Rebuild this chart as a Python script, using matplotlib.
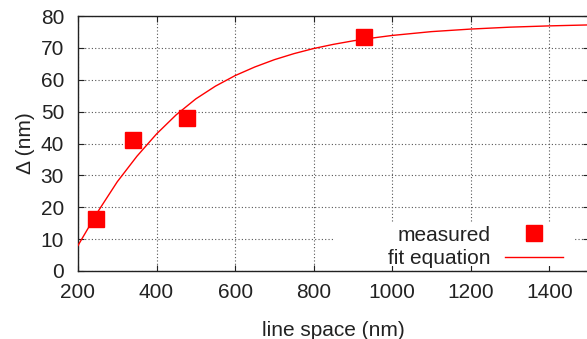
import numpy as np
import matplotlib
matplotlib.use("Agg")
import matplotlib.pyplot as plt
from matplotlib.patches import Rectangle

# measured points
space_meas = [245, 341, 477, 927]
delta_meas = [16.2, 41.1, 47.9, 73.3]

# fit curve
space_fit = [200, 250, 300, 350, 400, 450, 500, 550, 600, 650, 700, 750, 800,
             850, 900, 950, 1000, 1100, 1200, 1300, 1400, 1500]
delta_fit = [8.0, 18.5, 28.0, 36.0, 43.0, 49.0, 54.0, 58.0, 61.3, 64.0, 66.3,
             68.2, 69.8, 71.1, 72.2, 73.1, 73.9, 75.1, 75.9, 76.5, 76.9, 77.2]

xticks = [200, 400, 600, 800, 1000, 1200, 1400]
yticks = [0, 10, 20, 30, 40, 50, 60, 70, 80]

plt.rcParams['font.family'] = ['Liberation Sans', 'DejaVu Sans']
fs = 15

fig = plt.figure(figsize=(5.87, 3.39), dpi=100)
ax = fig.add_axes([78 / 587, 1 - 271 / 339, (588.6 - 78) / 587, (271 - 16) / 339])
ax.set_axisbelow(True)

ax.plot(space_fit, delta_fit, color='red', linewidth=1.0, label='fit equation', zorder=3)
ax.plot(space_meas, delta_meas, linestyle='none', marker='s', markersize=12,
        color='red', label='measured', zorder=4)

ax.set_xlim(200, 1500)
ax.set_ylim(0, 80)
ax.set_xticks(xticks)
ax.set_yticks(yticks)
ax.tick_params(direction='in', top=True, right=True, length=4, width=0.8,
               labelsize=fs, colors='#222222')
ax.tick_params(axis='x', pad=9)
ax.tick_params(axis='y', pad=10)
ax.grid(True, linestyle=(0, (1, 2)), color='#555555', linewidth=0.8)
ax.spines['right'].set_visible(False)
for s in ['left', 'top', 'bottom']:
    ax.spines[s].set_linewidth(1.0)
    ax.spines[s].set_color('#222222')

ax.set_xlabel('line space (nm)', fontsize=fs, color='#222222', labelpad=13)
ax.set_ylabel('Δ (nm)', fontsize=fs, color='#222222', labelpad=4)

# opaque key area (hides the grid behind the legend, like gnuplot's key box)
ax.add_patch(Rectangle((0.503, 0.018), 0.47, 0.174, transform=ax.transAxes,
                       facecolor='white', edgecolor='none', zorder=1))

handles, labels = ax.get_legend_handles_labels()
leg = ax.legend(handles[::-1], labels[::-1], loc='lower right',
                bbox_to_anchor=(0.9775, -0.047), markerfirst=False, fontsize=fs,
                frameon=False, handlelength=2.75,
                labelspacing=0.23, borderpad=0.2, handletextpad=0.7)
for t in leg.get_texts():
    t.set_ha('right')
    t.set_color('#222222')

fig.savefig('out.png', dpi=100)
